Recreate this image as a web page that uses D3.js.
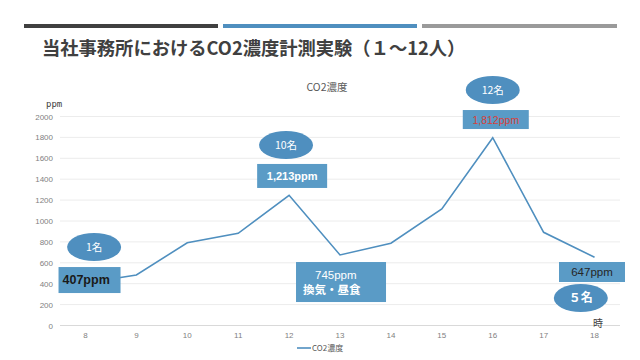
<!DOCTYPE html>
<html><head><meta charset="utf-8">
<script src="https://cdn.jsdelivr.net/npm/d3@7"></script>
<style>body{margin:0;background:#fff}svg{display:block}</style>
</head><body>
<svg id="c" width="640" height="360"></svg>
<script>
const pageTitle = "当社事務所におけるCO2濃度計測実験（１～12人）";
const chartTitle = "CO2濃度";
const seriesName = "CO2濃度";
const hours = [8,9,10,11,12,13,14,15,16,17,18];
const co2 = [407,483,792,882,1246,675,787,1115,1797,892,653];
const yTicks = [0,200,400,600,800,1000,1200,1400,1600,1800,2000];
const yUnit = "ppm";
const xUnit = "時";
const ellipseLabels = ["1名","10名","12名","５名"];
const boxLabels = [["407ppm"],["1,213ppm"],["745ppm","換気・昼食"],["1,812ppm"],["647ppm"]];

const svg = d3.select("#c");
const font = "'Noto Sans CJK JP','Noto Sans',sans-serif";

// header bars
[["#404040",24,218],["#4f8fbf",223,417],["#9a9a9a",422,617]].forEach(b=>{
  svg.append("rect").attr("x",b[1]).attr("y",24).attr("width",b[2]-b[1]).attr("height",4).attr("fill",b[0]);
});
svg.append("text").attr("x",42).attr("y",55).attr("font-family",font).attr("font-weight","bold")
  .attr("font-size",18.3).attr("fill","#404040").text(pageTitle);

svg.append("text").attr("x",327).attr("y",91).attr("text-anchor","middle").attr("font-family",font)
  .attr("font-size",10.5).attr("fill","#595959").text(chartTitle);

const x = d3.scaleBand().domain(hours).range([60,620]).padding(0);
const xc = h => x(h) + x.bandwidth()/2;
const y = d3.scaleLinear().domain([0,2000]).range([325.5,116.5]);
const xl = d3.scaleLinear().domain([8,18]).range([xc(8), xc(18)]);

// grid
svg.append("g").selectAll("line").data(yTicks).join("line")
  .attr("x1",60).attr("x2",620).attr("y1",d=>y(d)).attr("y2",d=>y(d))
  .attr("stroke",d=>d===0?"#d9d9d9":"#ececec").attr("stroke-width",1);

const ya = svg.append("g").attr("transform","translate(60,0)")
  .call(d3.axisLeft(y).tickValues(yTicks).tickSize(0).tickPadding(7).tickFormat(d3.format("d")));
ya.select(".domain").remove();
ya.selectAll("text").attr("font-family","'Liberation Sans',sans-serif").attr("font-size",8).attr("fill","#7f7f7f");

const xa = svg.append("g").attr("transform","translate(0,325.5)")
  .call(d3.axisBottom(x).tickSize(0).tickPadding(7));
xa.select(".domain").remove();
xa.selectAll("text").attr("font-family","'Liberation Sans',sans-serif").attr("font-size",8).attr("fill","#7f7f7f");

svg.append("text").attr("x",46).attr("y",107).attr("font-family","'DejaVu Sans Mono',monospace")
  .attr("font-size",9).attr("fill","#404040").text(yUnit);
svg.append("text").attr("x",598).attr("y",327).attr("text-anchor","middle").attr("font-family",font)
  .attr("font-size",10).attr("fill","#404040").text(xUnit);

// line
svg.append("path").datum(hours.map((h,i)=>[h,co2[i]]))
  .attr("fill","none").attr("stroke","#4f8fbf").attr("stroke-width",1.6)
  .attr("d", d3.line().x(d=>xc(d[0])).y(d=>y(d[1])));

// annotations (positions in chart units)
const ell = [[8.17,751],[11.94,1727],[16.0,2254],[17.73,263]];
ellipseLabels.forEach((t,i)=>{
  const cx = xl(ell[i][0]), cy = y(ell[i][1]);
  svg.append("ellipse").attr("cx",cx).attr("cy",cy).attr("rx",27).attr("ry",14).attr("fill","#4f8fbf");
  svg.append("text").attr("x",cx).attr("y",cy+4).attr("text-anchor","middle").attr("font-family",font)
    .attr("font-size",i===3?12:10.5).attr("font-weight",i===3?"bold":"normal").attr("fill","#fff").text(t);
});

const boxes = [
  {h:8.08,v:435,w:62,hh:26,fill:"#5a9bc6",color:"#1a1a1a",size:12.5,weight:"bold",anchor:"start",dx:-27},
  {h:12.06,v:1431,w:70,hh:24,fill:"#5a9bc6",color:"#ffffff",size:11,weight:"bold",anchor:"middle",dx:0},
  {h:13.02,v:416,w:90,hh:40,fill:"#5a9bc6",color:"#ffffff",size:11.5,weight:"normal",anchor:"start",dx:-26},
  {h:16.06,v:1971,w:66,hh:19,fill:"#5a9bc6",color:"#d9413a",size:10.5,weight:"normal",anchor:"middle",dx:0},
  {h:17.95,v:512,w:66,hh:20,fill:"#5a9bc6",color:"#262626",size:11.5,weight:"normal",anchor:"middle",dx:0}
];
boxes.forEach((b,i)=>{
  const cx = xl(b.h), cy = y(b.v);
  svg.append("rect").attr("x",cx-b.w/2).attr("y",cy-b.hh/2).attr("width",b.w).attr("height",b.hh).attr("fill",b.fill);
  const lines = boxLabels[i];
  lines.forEach((t,j)=>{
    const ty = cy + 4 + (j - (lines.length-1)/2)*15;
    svg.append("text").attr("x",cx+b.dx + (j===1?-12:0)).attr("y",ty).attr("text-anchor",b.anchor)
      .attr("font-family",j===1?font:"'Liberation Sans',sans-serif")
      .attr("font-size",b.size).attr("font-weight",j===1?"bold":b.weight).attr("fill",b.color).text(t);
  });
});

// legend
svg.append("line").attr("x1",297).attr("x2",311).attr("y1",348).attr("y2",348).attr("stroke","#4f8fbf").attr("stroke-width",1.6);
svg.append("text").attr("x",312).attr("y",351).attr("font-family",font).attr("font-size",8).attr("fill","#595959").text(seriesName);
</script>
</body></html>
